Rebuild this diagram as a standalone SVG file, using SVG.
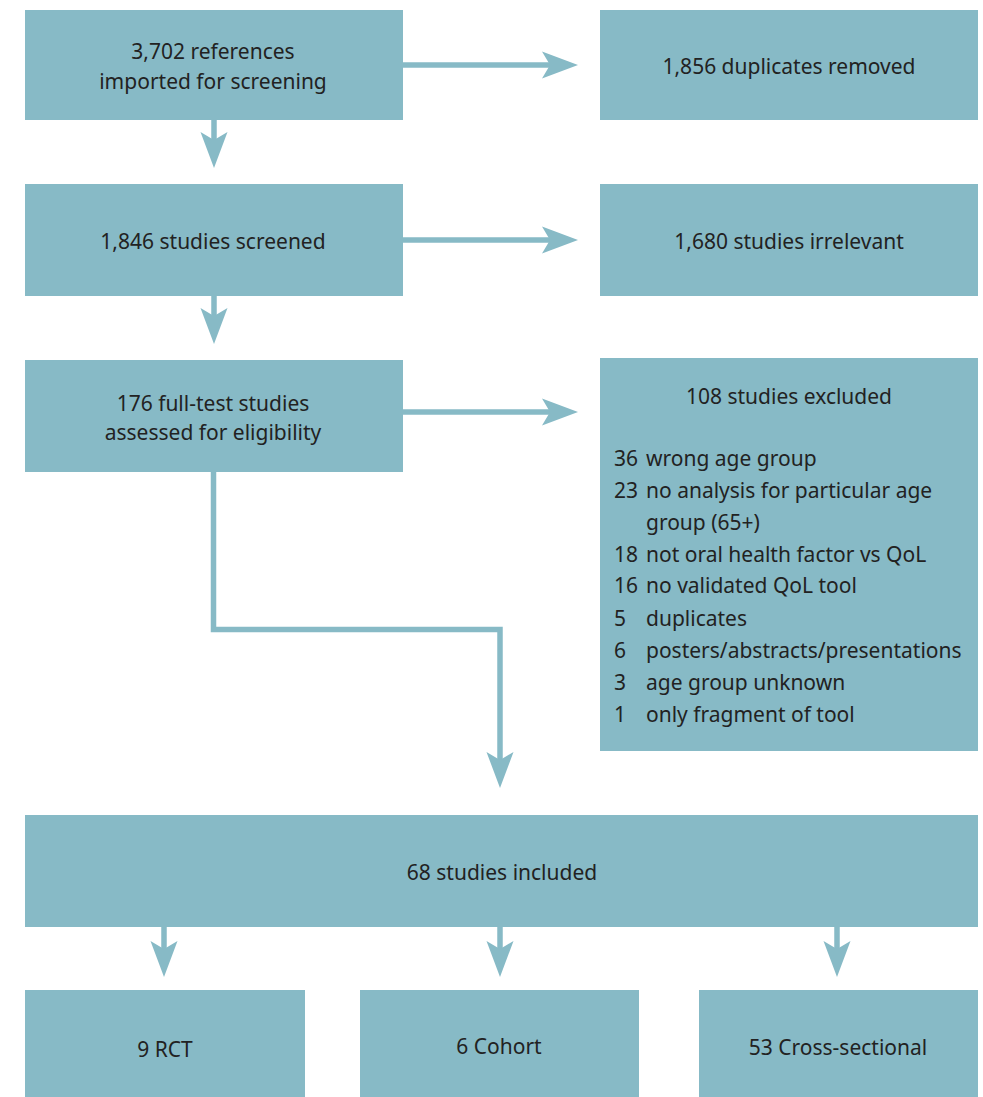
<svg xmlns="http://www.w3.org/2000/svg" width="983" height="1097" viewBox="0 0 983 1097">
<style>
.box{fill:#87bac6}
.t{font-family:"Noto Sans","Open Sans",sans-serif;font-size:21px;fill:#222;text-anchor:middle}
.l{font-family:"Noto Sans","Open Sans",sans-serif;font-size:21px;fill:#222}
.c{fill:none;stroke:#87bac6;stroke-width:5.5}
</style>
<defs>
<marker id="ah" markerUnits="userSpaceOnUse" markerWidth="40" markerHeight="30" viewBox="-36 -15 40 30" refX="-8" refY="0" orient="auto">
<path d="M0,0 L-36,-13.5 L-28,0 L-36,13.5 Z" fill="#87bac6"/>
</marker>
</defs>
<rect width="983" height="1097" fill="#fff"/>
<g id="n1"><rect class="box" x="25" y="10" width="378" height="110"/><text class="t" x="213" y="59">3,702 references</text><text class="t" x="213" y="89">imported for screening</text></g>
<g id="n2"><rect class="box" x="600" y="10" width="378" height="110"/><text class="t" x="789" y="74">1,856 duplicates removed</text></g>
<g id="n3"><rect class="box" x="25" y="184" width="378" height="112"/><text class="t" x="213" y="249">1,846 studies screened</text></g>
<g id="n4"><rect class="box" x="600" y="184" width="378" height="112"/><text class="t" x="789" y="249">1,680 studies irrelevant</text></g>
<g id="n5"><rect class="box" x="25" y="360" width="378" height="112"/><text class="t" x="213" y="411">176 full-test studies</text><text class="t" x="213" y="440">assessed for eligibility</text></g>
<g id="n6"><rect class="box" x="600" y="358" width="378" height="393"/><text class="t" x="789" y="404">108 studies excluded</text>
<text class="l" x="614" y="466">36</text><text class="l" x="646" y="466">wrong age group</text>
<text class="l" x="614" y="498">23</text><text class="l" x="646" y="498">no analysis for particular age</text>
<text class="l" x="646" y="530">group (65+)</text>
<text class="l" x="614" y="562">18</text><text class="l" x="646" y="562">not oral health factor vs QoL</text>
<text class="l" x="614" y="593">16</text><text class="l" x="646" y="593">no validated QoL tool</text>
<text class="l" x="614" y="626">5</text><text class="l" x="646" y="626">duplicates</text>
<text class="l" x="614" y="658">6</text><text class="l" x="646" y="658">posters/abstracts/presentations</text>
<text class="l" x="614" y="690">3</text><text class="l" x="646" y="690">age group unknown</text>
<text class="l" x="614" y="722">1</text><text class="l" x="646" y="722">only fragment of tool</text>
</g>
<g id="n7"><rect class="box" x="25" y="815" width="953" height="112"/><text class="t" x="502" y="880">68 studies included</text></g>
<g id="n8"><rect class="box" x="25" y="990" width="280" height="107"/><text class="t" x="165" y="1057">9 RCT</text></g>
<g id="n9"><rect class="box" x="360" y="990" width="279" height="107"/><text class="t" x="499" y="1054">6 Cohort</text></g>
<g id="n10"><rect class="box" x="699" y="990" width="279" height="107"/><text class="t" x="838" y="1055">53 Cross-sectional</text></g>
<g id="connectors">
<path class="c" d="M403,65 H570" marker-end="url(#ah)"/>
<path class="c" d="M403,240 H570" marker-end="url(#ah)"/>
<path class="c" d="M403,412 H570" marker-end="url(#ah)"/>
<path class="c" d="M214,120 V160" marker-end="url(#ah)"/>
<path class="c" d="M214,296 V336" marker-end="url(#ah)"/>
<path class="c" d="M213.5,472 V629.5 H500 V780" marker-end="url(#ah)"/>
<path class="c" d="M164,927 V969" marker-end="url(#ah)"/>
<path class="c" d="M500,927 V969" marker-end="url(#ah)"/>
<path class="c" d="M837,927 V969" marker-end="url(#ah)"/>
</g>
</svg>
